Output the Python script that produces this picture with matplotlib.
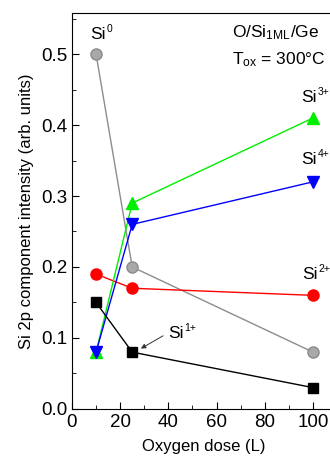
import matplotlib
matplotlib.use('Agg')
import matplotlib.pyplot as plt
from matplotlib.ticker import MultipleLocator

plt.rcParams['font.family'] = ['Liberation Sans', 'DejaVu Sans']
plt.rcParams['mathtext.fontset'] = 'custom'
plt.rcParams['mathtext.rm'] = 'Liberation Sans'
plt.rcParams['mathtext.it'] = 'Liberation Sans'

# dosis de oxigeno (L)
dose = [10, 25, 100]
si0 = [0.50, 0.20, 0.08]
si1 = [0.15, 0.08, 0.03]
si2 = [0.19, 0.17, 0.16]
si3 = [0.08, 0.29, 0.41]
si4 = [0.08, 0.26, 0.32]

fig = plt.figure(figsize=(3.3, 4.61), dpi=100)
ax = fig.add_axes([0.218, 0.113, 0.80, 0.859])

ax.plot(dose, si0, color='#8c8c8c', lw=1, marker='o', ms=8,
        mfc='#a8a8a8', mec='#8a8a8a', zorder=3)
ax.plot(dose, si2, color='red', lw=1, marker='o', ms=8, mfc='red', mec='red', zorder=3)
ax.plot(dose, si3, color='#00ee00', lw=1, marker='^', ms=9,
        mfc='#00ee00', mec='#00ee00', zorder=3)
ax.plot(dose, si4, color='blue', lw=1, marker='v', ms=9, mfc='blue', mec='blue', zorder=4)
ax.plot(dose, si1, color='black', lw=1, marker='s', ms=7, mfc='black', mec='black', zorder=4)

ax.set_xlim(0, 109.5)
ax.set_ylim(0, 0.558)
ax.xaxis.set_major_locator(MultipleLocator(20))
ax.xaxis.set_minor_locator(MultipleLocator(10))
ax.yaxis.set_major_locator(MultipleLocator(0.1))
ax.yaxis.set_minor_locator(MultipleLocator(0.05))
ax.tick_params(which='both', direction='in', top=False, right=False, labelsize=13.5)
ax.tick_params(which='major', length=5)
ax.tick_params(which='minor', length=3)
ax.spines['right'].set_visible(False)

ax.set_xlabel('Oxygen dose (L)', fontsize=12, labelpad=6)
ax.set_ylabel('Si 2p component intensity (arb. units)', fontsize=12, labelpad=5)


# etiqueta "Si" con superindice pequeño
def si_label(x, y, sup):
    t = ax.text(x, y, 'Si', fontsize=12.5)
    ax.annotate(sup, xy=(1, 1), xycoords=t, xytext=(0.5, -1.5),
                textcoords='offset points', fontsize=7.5, va='center')
    return t


si_label(7.5, 0.521, '0')
si_label(95.2, 0.432, '3+')
si_label(95.2, 0.345, '4+')
si_label(95.6, 0.183, '2+')
si_label(39.8, 0.1, '1+')
ax.annotate('', xy=(28.6, 0.085), xytext=(37.8, 0.103),
            arrowprops=dict(arrowstyle='-|>', color='#333333', lw=0.7,
                            mutation_scale=7, shrinkA=0, shrinkB=0))

ax.text(66.5, 0.524, 'O/Si$_{\\mathregular{1ML}}$/Ge', fontsize=12.5)
ax.text(66.5, 0.485, 'T$_{\\mathregular{ox}}$ = 300\u00b0C', fontsize=12.5)

fig.savefig('out.png', dpi=100)
